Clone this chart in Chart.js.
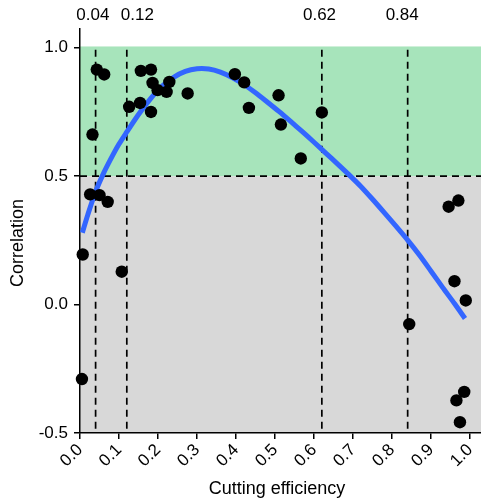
<!DOCTYPE html>
<html>
<head>
<meta charset="utf-8">
<script src="https://cdn.jsdelivr.net/npm/chart.js@4.4.1/dist/chart.umd.min.js"></script>
<style>
  html, body { margin: 0; padding: 0; background: #ffffff; }
  #wrap { width: 481px; height: 503px; position: relative; }
</style>
</head>
<body>
<div id="wrap"><canvas id="c"></canvas></div>
<script>
// ---- data ----
const pointX = [0.005, 0.007, 0.032, 0.043, 0.062, 0.026, 0.050, 0.071, 0.107, 0.126,
                0.154, 0.156, 0.182, 0.186, 0.182, 0.199, 0.222, 0.229, 0.276, 0.397,
                0.421, 0.433, 0.509, 0.515, 0.566, 0.620, 0.945, 0.970, 0.960, 0.989,
                0.844, 0.985, 0.965, 0.974];
const pointY = [-0.290, 0.195, 0.662, 0.915, 0.896, 0.429, 0.426, 0.400, 0.128, 0.770,
                0.785, 0.910, 0.915, 0.863, 0.750, 0.835, 0.828, 0.867, 0.822, 0.897,
                0.865, 0.766, 0.815, 0.701, 0.569, 0.748, 0.381, 0.405, 0.091, 0.016,
                -0.076, -0.340, -0.373, -0.458];
const fitX = [0.006, 0.02, 0.04, 0.06, 0.08, 0.10, 0.12, 0.15, 0.18, 0.21, 0.24, 0.27,
              0.30, 0.33, 0.36, 0.39, 0.42, 0.45, 0.48, 0.51, 0.54, 0.57, 0.60, 0.63,
              0.66, 0.69, 0.72, 0.75, 0.78, 0.81, 0.84, 0.87, 0.90, 0.93, 0.96, 0.987];
const fitY = [0.280, 0.350, 0.440, 0.510, 0.570, 0.625, 0.672, 0.740, 0.800, 0.850, 0.885, 0.908,
              0.918, 0.917, 0.905, 0.884, 0.857, 0.825, 0.789, 0.752, 0.713, 0.673, 0.632, 0.590,
              0.548, 0.505, 0.460, 0.410, 0.358, 0.305, 0.251, 0.193, 0.130, 0.066, 0.004, -0.054];
const xTicks = [0, 0.1, 0.2, 0.3, 0.4, 0.5, 0.6, 0.7, 0.8, 0.9, 1.0];
const yTicks = [-0.5, 0, 0.5, 1.0];
const cutoffs = [0.04, 0.12, 0.62, 0.84];
const cutoffLabels = ['0.04', '0.12', '0.62', '0.84'];
const cutoffLabelX = [0.033, 0.147, 0.614, 0.826];
const corrThreshold = 0.5;
const bandTop = 1.005;
const xRange = [0, 1.028];
const yRange = [-0.5, 1.073];
const xTitle = 'Cutting efficiency';
const yTitle = 'Correlation';

const GREEN = '#a7e4bb';
const GRAY = '#d8d8d8';
const FONT = 'Liberation Sans, Arial, Helvetica, sans-serif';

const bandsPlugin = {
  id: 'bands',
  beforeDraw(chart) {
    const { ctx, chartArea: a, scales } = chart;
    const y = scales.y;
    const yT = y.getPixelForValue(bandTop);
    const yM = y.getPixelForValue(corrThreshold);
    const yB = y.getPixelForValue(yRange[0]);
    ctx.save();
    ctx.fillStyle = GREEN;
    ctx.fillRect(a.left, yT, a.right - a.left, yM - yT);
    ctx.fillStyle = GRAY;
    ctx.fillRect(a.left, yM, a.right - a.left, yB - yM);
    ctx.restore();
  },
  beforeDatasetsDraw(chart) {
    const { ctx, chartArea: a, scales } = chart;
    const x = scales.x, y = scales.y;
    ctx.save();
    ctx.strokeStyle = '#000';
    ctx.lineWidth = 1.7;
    ctx.setLineDash([7, 5]);
    const yM = y.getPixelForValue(corrThreshold);
    ctx.beginPath();
    ctx.moveTo(a.left, yM);
    ctx.lineTo(a.right, yM);
    ctx.stroke();
    const yTop = y.getPixelForValue(1.0);
    const yBot = y.getPixelForValue(yRange[0]);
    ctx.lineDashOffset = -2;
    cutoffs.forEach(v => {
      const px = x.getPixelForValue(v);
      ctx.beginPath();
      ctx.moveTo(px, yTop);
      ctx.lineTo(px, yBot);
      ctx.stroke();
    });
    ctx.restore();
  },
  afterDraw(chart) {
    const { ctx } = chart;
    ctx.save();
    ctx.fillStyle = '#000';
    ctx.font = '18px ' + FONT;
    ctx.textAlign = 'center';
    ctx.textBaseline = 'middle';
    ctx.fillText(xTitle, 277, 489);
    ctx.translate(18, 243);
    ctx.rotate(-Math.PI / 2);
    ctx.fillText(yTitle, 0, 0);
    ctx.restore();
  }
};

const scatterData = pointX.map((v, i) => ({ x: v, y: pointY[i] }));
const fitData = fitX.map((v, i) => ({ x: v, y: fitY[i] }));

const zeroPad = s => { s.paddingLeft = 0; s.paddingRight = 0; };

new Chart(document.getElementById('c'), {
  type: 'scatter',
  data: {
    datasets: [
      {
        type: 'line',
        data: fitData,
        borderColor: '#3366ff',
        borderWidth: 5,
        pointRadius: 0,
        fill: false,
        tension: 0.3,
        borderCapStyle: 'butt',
        order: 2
      },
      {
        type: 'scatter',
        data: scatterData,
        backgroundColor: '#000',
        borderColor: '#000',
        borderWidth: 0,
        pointRadius: 6.2,
        clip: false,
        order: 1
      }
    ]
  },
  options: {
    responsive: true,
    maintainAspectRatio: false,
    animation: false,
    layout: { padding: 0, autoPadding: false },
    plugins: { legend: { display: false }, tooltip: { enabled: false } },
    scales: {
      x: {
        type: 'linear', position: 'bottom',
        min: xRange[0], max: xRange[1],
        afterBuildTicks: s => { s.ticks = xTicks.map(v => ({ value: v })); },
        afterFit: s => { s.height = 70; zeroPad(s); },
        ticks: {
          autoSkip: false, minRotation: 45, maxRotation: 45, padding: 1,
          color: '#000', font: { family: FONT, size: 17 },
          callback: v => Number(v).toFixed(1)
        },
        grid: { display: true, drawOnChartArea: false, drawTicks: true, tickLength: 6, color: '#000', lineWidth: 1.5 },
        border: { display: true, color: '#000', width: 1.5 },
        title: { display: false }
      },
      x2: {
        type: 'linear', position: 'top',
        min: xRange[0], max: xRange[1],
        afterBuildTicks: s => { s.ticks = cutoffLabelX.map(v => ({ value: v })); },
        afterFit: s => { s.height = 29; zeroPad(s); },
        ticks: {
          autoSkip: false, minRotation: 0, maxRotation: 0, padding: 3,
          color: '#000', font: { family: FONT, size: 17 },
          callback: (v, i) => cutoffLabels[i]
        },
        grid: { display: false, drawTicks: false },
        border: { display: false }
      },
      y: {
        type: 'linear', position: 'left',
        min: yRange[0], max: yRange[1],
        afterBuildTicks: s => { s.ticks = yTicks.map(v => ({ value: v })); },
        afterFit: s => { s.width = 80; s.paddingTop = 0; s.paddingBottom = 0; },
        ticks: {
          autoSkip: false, padding: 6,
          color: '#000', font: { family: FONT, size: 17 },
          callback: v => Number(v).toFixed(1)
        },
        grid: { display: true, drawOnChartArea: false, drawTicks: true, tickLength: 6, color: '#000', lineWidth: 1.5 },
        border: { display: true, color: '#000', width: 1.5 },
        title: { display: false }
      }
    }
  },
  plugins: [bandsPlugin]
});
</script>
</body>
</html>
